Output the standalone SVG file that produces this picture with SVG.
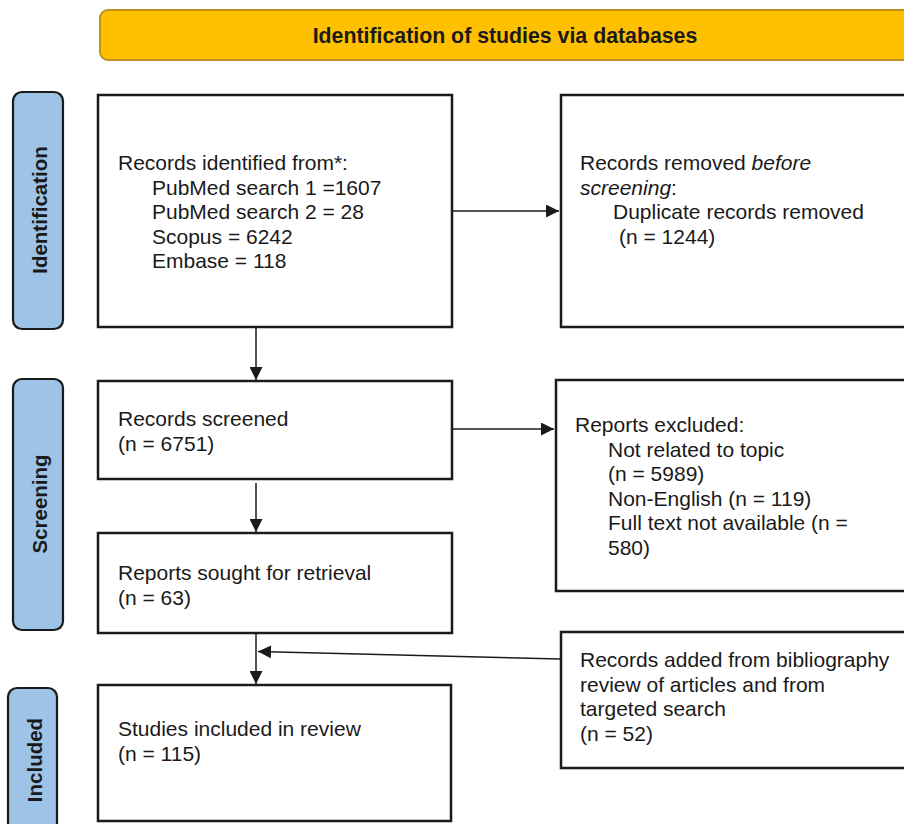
<svg xmlns="http://www.w3.org/2000/svg" width="904" height="824" viewBox="0 0 904 824">
<defs>
<style>
.box{fill:#fff;stroke:#1a1a1a;stroke-width:2.5}
.side{fill:#9DC3E6;stroke:#1a1a1a;stroke-width:2.2}
.hdr{fill:#FFC000;stroke:#C09020;stroke-width:2}
.t{font-family:"Liberation Sans",Arial,sans-serif;font-size:21px;fill:#1a1a1a}
.b{font-family:"Liberation Sans",Arial,sans-serif;font-size:20.5px;font-weight:bold;fill:#1a1a1a}
.ln{stroke:#1a1a1a;stroke-width:1.5;fill:none}
</style>
<marker id="ah" viewBox="0 0 10 10" refX="10" refY="5" markerWidth="13" markerHeight="13" markerUnits="userSpaceOnUse" orient="auto">
<path d="M0,0 L10,5 L0,10 z" fill="#1a1a1a"/>
</marker>
</defs>
<rect width="904" height="824" fill="#fff"/>

<g id="header">
<rect class="hdr" x="100" y="10" width="820" height="50" rx="8"/>
<text class="b" x="505" y="42.5" text-anchor="middle" style="font-size:21.3px">Identification of studies via databases</text>
</g>

<g id="side-identification">
<rect class="side" x="13" y="92" width="50" height="237" rx="9"/>
<text class="b" transform="translate(47,210) rotate(-90)" text-anchor="middle">Identification</text>
</g>
<g id="side-screening">
<rect class="side" x="13" y="379" width="50" height="251" rx="9"/>
<text class="b" transform="translate(47,504) rotate(-90)" text-anchor="middle">Screening</text>
</g>
<g id="side-included">
<rect class="side" x="8" y="688" width="49" height="150" rx="9"/>
<text class="b" transform="translate(42,760) rotate(-90)" text-anchor="middle">Included</text>
</g>

<g id="records-identified">
<rect class="box" x="98" y="95" width="354" height="232"/>
<text class="t" x="118" y="170">Records identified from*:</text>
<text class="t" x="152" y="194.5">PubMed search 1 =1607</text>
<text class="t" x="152" y="219">PubMed search 2 = 28</text>
<text class="t" x="152" y="243.5">Scopus = 6242</text>
<text class="t" x="152" y="268">Embase = 118</text>
</g>

<g id="records-removed">
<rect class="box" x="561" y="95" width="360" height="232"/>
<text class="t" x="580" y="170">Records removed <tspan font-style="italic">before</tspan></text>
<text class="t" x="580" y="194.5"><tspan font-style="italic">screening</tspan>:</text>
<text class="t" x="613" y="219">Duplicate records removed</text>
<text class="t" x="619" y="243.5">(n = 1244)</text>
</g>

<g id="records-screened">
<rect class="box" x="98" y="381" width="354" height="98"/>
<text class="t" x="118" y="426">Records screened</text>
<text class="t" x="118" y="450.5">(n = 6751)</text>
</g>

<g id="reports-excluded">
<rect class="box" x="556" y="380" width="365" height="211"/>
<text class="t" x="575" y="432">Reports excluded:</text>
<text class="t" x="608" y="456.5">Not related to topic</text>
<text class="t" x="608" y="481">(n = 5989)</text>
<text class="t" x="608" y="505.5">Non-English (n = 119)</text>
<text class="t" x="608" y="530">Full text not available (n =</text>
<text class="t" x="608" y="554.5">580)</text>
</g>

<g id="reports-sought">
<rect class="box" x="98" y="533" width="354" height="100"/>
<text class="t" x="118" y="580">Reports sought for retrieval</text>
<text class="t" x="118" y="604.5">(n = 63)</text>
</g>

<g id="records-added">
<rect class="box" x="561" y="632" width="360" height="136"/>
<text class="t" x="580" y="667">Records added from bibliography</text>
<text class="t" x="580" y="691.5">review of articles and from</text>
<text class="t" x="580" y="716">targeted search</text>
<text class="t" x="580" y="740.5">(n = 52)</text>
</g>

<g id="studies-included">
<rect class="box" x="98" y="685" width="353" height="136"/>
<text class="t" x="118" y="736">Studies included in review</text>
<text class="t" x="118" y="760.5">(n = 115)</text>
</g>

<g id="connectors">
<line class="ln" x1="452" y1="211" x2="559" y2="211" marker-end="url(#ah)"/>
<line class="ln" x1="256" y1="328" x2="256" y2="380" marker-end="url(#ah)"/>
<line class="ln" x1="452" y1="429" x2="554" y2="429" marker-end="url(#ah)"/>
<line class="ln" x1="256" y1="483" x2="256" y2="532" marker-end="url(#ah)"/>
<line class="ln" x1="256" y1="634" x2="256" y2="684" marker-end="url(#ah)"/>
<line class="ln" x1="560" y1="659" x2="258" y2="651.5" marker-end="url(#ah)"/>
</g>
</svg>
